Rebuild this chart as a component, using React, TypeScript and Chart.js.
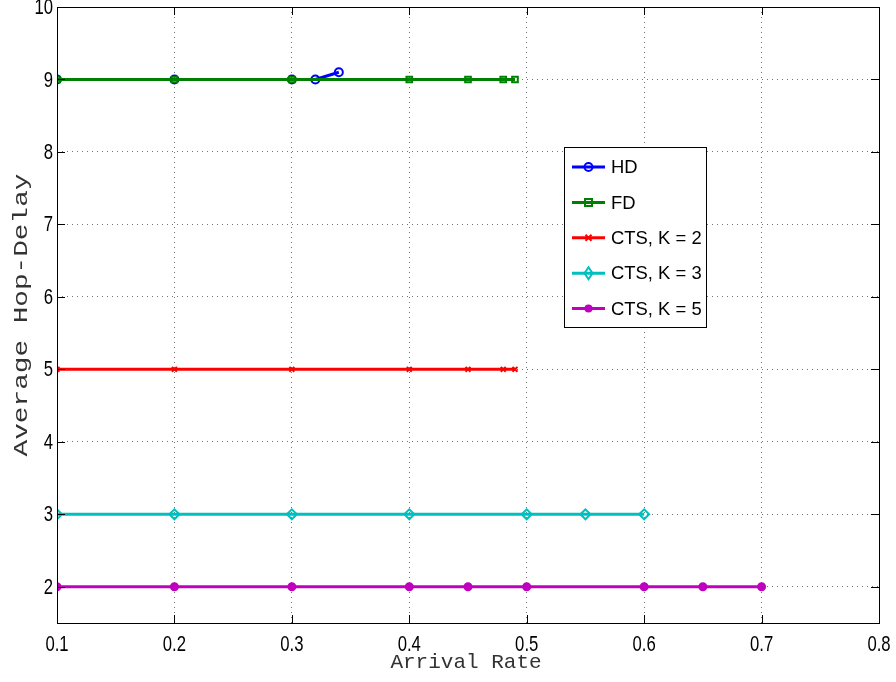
import React, { useEffect, useRef } from 'react';
import { Chart, registerables } from 'chart.js';
Chart.register(...registerables);

const seriesLabels = ['HD', 'FD', 'CTS, K = 2', 'CTS, K = 3', 'CTS, K = 5'];
const hdX = [0.1, 0.2, 0.3, 0.32, 0.34];
const hdY = [9, 9, 9, 9, 9.1];
const fdX = [0.1, 0.2, 0.3, 0.4, 0.45, 0.48, 0.49];
const fdY = [9, 9, 9, 9, 9, 9, 9];
const k2X = [0.1, 0.2, 0.3, 0.4, 0.45, 0.48, 0.49];
const k2Y = [5, 5, 5, 5, 5, 5, 5];
const k3X = [0.1, 0.2, 0.3, 0.4, 0.5, 0.55, 0.6];
const k3Y = [3, 3, 3, 3, 3, 3, 3];
const k5X = [0.1, 0.2, 0.3, 0.4, 0.45, 0.5, 0.6, 0.65, 0.7];
const k5Y = [2, 2, 2, 2, 2, 2, 2, 2, 2];
const xTicks = [0.1, 0.2, 0.3, 0.4, 0.5, 0.6, 0.7, 0.8];
const xTickLabels = ['0.1', '0.2', '0.3', '0.4', '0.5', '0.6', '0.7', '0.8'];
const yTicks = [2, 3, 4, 5, 6, 7, 8, 9, 10];
const yTickLabels = ['2', '3', '4', '5', '6', '7', '8', '9', '10'];
const xTitle = 'Arrival Rate';
const yTitle = 'Average Hop-Delay';

const colors = ['#0000ff', '#008000', '#ff0000', '#00bfbf', '#bf00bf'];
const markers = ['circle', 'rect', 'crossRot', 'rectRot', 'circle'];

const SANS = '"Liberation Sans", Arial, sans-serif';
const MONO = '"Liberation Mono", "DejaVu Sans Mono", monospace';
const SQUEEZE = 0.76;

function pts(xs: number[], ys: number[]) {
  return xs.map((x, i) => ({ x, y: ys[i] }));
}

function drawMarker(ctx: CanvasRenderingContext2D, kind: number, x: number, y: number, color: string) {
  ctx.save();
  ctx.strokeStyle = color;
  ctx.fillStyle = color;
  ctx.lineWidth = 2;
  ctx.beginPath();
  if (kind === 0) {
    ctx.arc(x, y, 4, 0, Math.PI * 2);
    ctx.stroke();
  } else if (kind === 1) {
    ctx.rect(x - 3.5, y - 3.5, 7, 7);
    ctx.stroke();
  } else if (kind === 2) {
    ctx.moveTo(x - 3, y - 3); ctx.lineTo(x + 3, y + 3);
    ctx.moveTo(x - 3, y + 3); ctx.lineTo(x + 3, y - 3);
    ctx.stroke();
  } else if (kind === 3) {
    ctx.moveTo(x, y - 6); ctx.lineTo(x + 4, y); ctx.lineTo(x, y + 6); ctx.lineTo(x - 4, y); ctx.closePath();
    ctx.stroke();
  } else {
    ctx.arc(x, y, 4, 0, Math.PI * 2);
    ctx.fill();
  }
  ctx.restore();
}

function squeezedText(ctx: CanvasRenderingContext2D, text: string, x: number, y: number, sx: number) {
  ctx.save();
  ctx.translate(x, y);
  ctx.scale(sx, 1);
  ctx.fillText(text, 0, 0);
  ctx.restore();
}

const framePlugin = {
  id: 'frame',
  afterDatasetsDraw(chart: any) {
    const { ctx, chartArea: a, scales } = chart;
    ctx.save();
    ctx.strokeStyle = '#000';
    ctx.lineWidth = 1;
    ctx.strokeRect(a.left + 0.5, a.top + 0.5, a.right - a.left, a.bottom - a.top);
    ctx.beginPath();
    const tl = 8;
    for (const v of xTicks) {
      const px = Math.round(scales.x.getPixelForValue(v)) + 0.5;
      ctx.moveTo(px, a.bottom); ctx.lineTo(px, a.bottom - tl);
      ctx.moveTo(px, a.top); ctx.lineTo(px, a.top + tl);
    }
    for (const v of yTicks) {
      const py = Math.round(scales.y.getPixelForValue(v)) + 0.5;
      ctx.moveTo(a.left, py); ctx.lineTo(a.left + tl, py);
      ctx.moveTo(a.right, py); ctx.lineTo(a.right - tl, py);
    }
    ctx.stroke();

    // tick labels
    ctx.fillStyle = '#000';
    ctx.font = '22px ' + SANS;
    ctx.textAlign = 'center';
    ctx.textBaseline = 'top';
    xTicks.forEach((v, i) => {
      squeezedText(ctx, xTickLabels[i], scales.x.getPixelForValue(v), a.bottom + 11, SQUEEZE);
    });
    ctx.textAlign = 'right';
    ctx.textBaseline = 'middle';
    yTicks.forEach((v, i) => {
      squeezedText(ctx, yTickLabels[i], a.left - 4, scales.y.getPixelForValue(v) + 1, SQUEEZE);
    });

    // axis titles
    ctx.fillStyle = '#333';
    ctx.font = '21px ' + MONO;
    ctx.textAlign = 'center';
    ctx.textBaseline = 'alphabetic';
    ctx.fillText(xTitle, (a.left + a.right) / 2 - 2, 668);
    ctx.save();
    ctx.translate(27, 315);
    ctx.rotate(-Math.PI / 2);
    ctx.scale(1.32, 1);
    ctx.fillText(yTitle, 0, 0);
    ctx.restore();

    // legend
    const bx = 564, by = 147, bw = 142, bh = 180;
    ctx.fillStyle = '#fff';
    ctx.fillRect(bx, by, bw, bh);
    ctx.strokeStyle = '#000';
    ctx.lineWidth = 1;
    ctx.strokeRect(bx + 0.5, by + 0.5, bw, bh);
    const ds = chart.data.datasets;
    ctx.font = '19px ' + SANS;
    ctx.textBaseline = 'middle';
    ctx.textAlign = 'left';
    ds.forEach((d: any, i: number) => {
      const cy = 167 + i * 35.4;
      ctx.strokeStyle = d.borderColor;
      ctx.lineWidth = 3;
      ctx.beginPath();
      ctx.moveTo(572, cy); ctx.lineTo(605, cy);
      ctx.stroke();
      drawMarker(ctx, i, 588.5, cy, d.borderColor);
      ctx.fillStyle = '#000';
      squeezedText(ctx, d.label, 611, cy + 1, 0.97);
    });
    ctx.restore();
  },
};

export default function App() {
  const ref = useRef<HTMLCanvasElement | null>(null);
  useEffect(() => {
    document.body.style.margin = '0';
    const xs = [hdX, fdX, k2X, k3X, k5X];
    const ys = [hdY, fdY, k2Y, k3Y, k5Y];
    const datasets = seriesLabels.map((label, i) => ({
      label,
      data: pts(xs[i], ys[i]),
      borderColor: colors[i],
      backgroundColor: i === 4 ? colors[i] : 'rgba(0,0,0,0)',
      borderWidth: 3,
      pointStyle: markers[i],
      pointRadius: i === 2 ? 3.5 : i === 3 ? 5 : i === 4 ? 3.5 : 4,
      pointBorderWidth: 2,
      pointBorderColor: colors[i],
      pointBackgroundColor: i === 4 ? colors[i] : 'rgba(0,0,0,0)',
      tension: 0,
      fill: false,
      order: 5 - i,
    }));
    const chart = new Chart(ref.current!, {
      type: 'line',
      data: { datasets },
      options: {
        animation: false,
        responsive: false,
        layout: { padding: { top: 7, right: 17, left: 0, bottom: 0 } },
        plugins: { legend: { display: false }, tooltip: { enabled: false } },
        scales: {
          x: {
            type: 'linear',
            min: 0.1,
            max: 0.8,
            afterBuildTicks: (s: any) => { s.ticks = xTicks.map((v) => ({ value: v })); },
            afterFit: (s: any) => { s.height = 59; s.paddingLeft = 0; s.paddingRight = 0; },
            ticks: { display: false },
            grid: { color: 'rgba(0,0,0,0.55)', lineWidth: 1, drawTicks: false },
            border: { display: false, dash: [1, 4] },
            title: { display: false },
          },
          y: {
            type: 'linear',
            min: 1.5,
            max: 10,
            afterBuildTicks: (s: any) => { s.ticks = yTicks.map((v) => ({ value: v })); },
            afterFit: (s: any) => { s.width = 57; s.paddingTop = 0; s.paddingBottom = 0; },
            ticks: { display: false },
            grid: { color: 'rgba(0,0,0,0.55)', lineWidth: 1, drawTicks: false },
            border: { display: false, dash: [1, 4] },
            title: { display: false },
          },
        },
      },
      plugins: [framePlugin],
    } as any);
    return () => chart.destroy();
  }, []);
  return <canvas ref={ref} width={896} height={682} style={{ display: 'block' }} />;
}
